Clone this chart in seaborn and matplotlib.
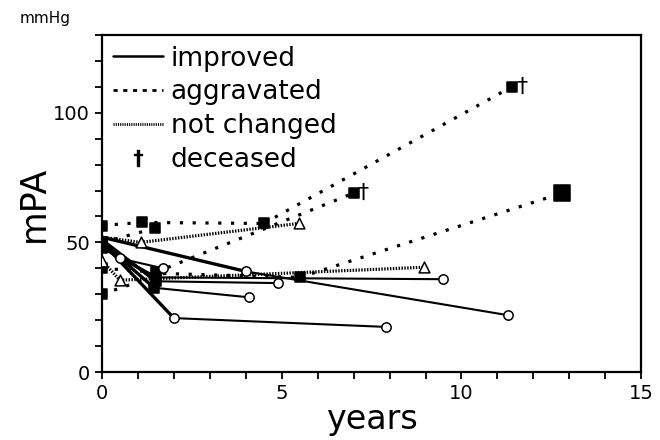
import matplotlib
matplotlib.use("Agg")
import matplotlib.pyplot as plt
from matplotlib.lines import Line2D
import seaborn as sns
import pandas as pd

# ---- data (years, mPA mmHg, marker per point) ----
improved_1_x = [0, 2.0, 7.9]
improved_1_y = [50, 20.8, 17.4]
improved_1_m = ["s", "o", "o"]
improved_2_x = [0, 4.0, 11.3]
improved_2_y = [52, 38.8, 21.9]
improved_2_m = ["", "o", "o"]
improved_3_x = [0, 1.45, 4.1]
improved_3_y = [50, 32.5, 28.8]
improved_3_m = ["", "s", "o"]
improved_4_x = [0, 1.5, 4.9]
improved_4_y = [51, 35.0, 34.3]
improved_4_m = ["", "s", "o"]
improved_5_x = [0, 1.5, 9.5]
improved_5_y = [48, 36.5, 35.8]
improved_5_m = ["s", "s", "o"]
improved_6_x = [0, 0.5, 1.7]
improved_6_y = [49, 43.8, 40.0]
improved_6_m = ["", "o", "o"]

aggravated_1_x = [0, 1.1, 4.5, 11.4]
aggravated_1_y = [56.5, 57.7, 57.3, 110]
aggravated_1_m = ["s", "s", "s", "s"]
aggravated_2_x = [0, 1.5, 7.0]
aggravated_2_y = [40, 38.5, 69]
aggravated_2_m = ["s", "s", "s"]
aggravated_3_x = [0, 1.7, 5.5, 12.8]
aggravated_3_y = [30, 38.0, 36.5, 69]
aggravated_3_m = ["s", "", "s", "S"]
aggravated_4_x = [0, 1.47]
aggravated_4_y = [50, 55.4]
aggravated_4_m = ["s", "s"]

notchanged_1_x = [0, 1.08, 5.47]
notchanged_1_y = [52, 50, 57.3]
notchanged_1_m = ["", "^", "^"]
notchanged_2_x = [0, 0.5, 8.95]
notchanged_2_y = [43, 35.4, 40.4]
notchanged_2_m = ["^", "^", "^"]

deceased_x = [7.0, 11.4]
deceased_y = [69, 110]

legend_labels = ["improved", "aggravated", "not changed", "deceased"]

series = [
    ("improved", improved_1_x, improved_1_y, improved_1_m),
    ("improved", improved_2_x, improved_2_y, improved_2_m),
    ("improved", improved_3_x, improved_3_y, improved_3_m),
    ("improved", improved_4_x, improved_4_y, improved_4_m),
    ("improved", improved_5_x, improved_5_y, improved_5_m),
    ("improved", improved_6_x, improved_6_y, improved_6_m),
    ("aggravated", aggravated_1_x, aggravated_1_y, aggravated_1_m),
    ("aggravated", aggravated_2_x, aggravated_2_y, aggravated_2_m),
    ("aggravated", aggravated_3_x, aggravated_3_y, aggravated_3_m),
    ("aggravated", aggravated_4_x, aggravated_4_y, aggravated_4_m),
    ("not changed", notchanged_1_x, notchanged_1_y, notchanged_1_m),
    ("not changed", notchanged_2_x, notchanged_2_y, notchanged_2_m),
]

seg_rows, pt_rows = [], []
for i, (status, xs, ys, ms) in enumerate(series):
    for j in range(len(xs) - 1):
        w = "thick" if j == 0 else "thin"
        for k in (j, j + 1):
            seg_rows.append(dict(x=xs[k], y=ys[k], unit=f"{i}-{j}", status=status, w=w))
    for xv, yv, mv in zip(xs, ys, ms):
        if mv:
            pt_rows.append(dict(x=xv, y=yv, mk=mv))
segs = pd.DataFrame(seg_rows)
pts = pd.DataFrame(pt_rows)

sns.set_style("ticks")
plt.rcParams["font.family"] = ["DejaVu Sans"]
plt.rcParams.update({"text.color": "black", "axes.labelcolor": "black",
                     "xtick.color": "black", "ytick.color": "black",
                     "axes.edgecolor": "black"})

fig = plt.figure(figsize=(6.6, 4.4), dpi=100)
ax = fig.add_axes([0.1545, 0.1545, 0.817, 0.766])

dash_map = {"improved": "", "aggravated": (1.0, 3.0), "not changed": (0.45, 0.45)}
for w, lw in (("thick", 2.4), ("thin", 1.5)):
    for status in ("improved", "aggravated", "not changed"):
        sub = segs[(segs.w == w) & (segs.status == status)]
        if sub.empty:
            continue
        lwx = lw if status == "improved" else 2.3
        sns.lineplot(data=sub, x="x", y="y", units="unit", estimator=None, sort=False,
                     style="status", dashes={status: dash_map[status]},
                     color="black", lw=lwx, legend=False, ax=ax)

mk_style = {
    "s": dict(marker="s", s=60, facecolor="black", edgecolor="black"),
    "S": dict(marker="s", s=120, facecolor="black", edgecolor="black"),
    "o": dict(marker="o", s=45, facecolor="white", edgecolor="black"),
    "^": dict(marker="^", s=60, facecolor="white", edgecolor="black"),
}
for mk, st in mk_style.items():
    sub = pts[pts.mk == mk]
    if sub.empty:
        continue
    sns.scatterplot(data=sub, x="x", y="y", marker=st["marker"], s=st["s"],
                    facecolor=st["facecolor"], edgecolor=st["edgecolor"],
                    linewidth=1.1, legend=False, zorder=5, ax=ax)

for xv, yv in zip(deceased_x, deceased_y):
    ax.annotate("†", (xv, yv), xytext=(7, 0), textcoords="offset points",
                fontsize=16, ha="center", va="center")

ax.set_xlim(0, 15)
ax.set_ylim(0, 130)
ax.set_xticks([0, 5, 10, 15])
ax.set_xticks(range(0, 16), minor=True)
ax.set_yticks([0, 50, 100])
ax.set_yticks(range(0, 131, 10), minor=True)
ax.tick_params(axis="both", which="both", direction="out", length=5, width=1.3,
               color="black", labelsize=14, labelcolor="black")
for sp in ax.spines.values():
    sp.set_visible(True)
    sp.set_linewidth(1.6)
    sp.set_color("black")

ax.set_xlabel("years", fontsize=24, labelpad=0)
ax.set_ylabel("mPA", fontsize=25, labelpad=2)
fig.text(0.068, 0.958, "mmHg", fontsize=11, ha="center", va="center")

handles = [
    Line2D([], [], color="black", lw=1.8, ls="-"),
    Line2D([], [], color="black", lw=2.0, dashes=(1.5, 2.0)),
    Line2D([], [], color="black", lw=2.0, dashes=(0.4, 0.4)),
    Line2D([], [], color="black", ls="", marker="$†$", markersize=12),
]
ax.legend(handles, legend_labels, loc="upper left", frameon=False, fontsize=19,
          handlelength=1.9, handletextpad=0.3, labelspacing=0.3,
          borderaxespad=0.2, borderpad=0.2)

fig.savefig("out.png", dpi=100)
